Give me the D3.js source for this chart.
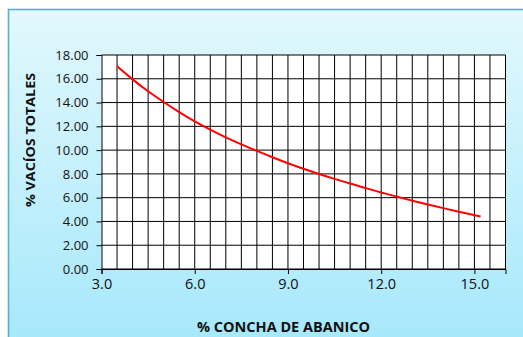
<!DOCTYPE html>
<html>
<head>
<meta charset="utf-8">
<script src="https://cdn.jsdelivr.net/npm/d3@7"></script>
<style>
  html, body { margin: 0; padding: 0; background: #ffffff; }
  svg { display: block; }
</style>
</head>
<body>
<script>
// % concha de abanico (x) vs % vacíos totales (y)
const conchaPct = [3.5, 4.0, 4.5, 5.0, 5.5, 6.0, 6.5, 7.0, 7.5, 8.0, 8.5, 9.0, 9.5,
                   10.0, 10.5, 11.0, 11.5, 12.0, 12.5, 13.0, 13.5, 14.0, 14.5, 15.2];
const vaciosPct = [17.05, 15.95, 14.95, 14.05, 13.2, 12.42, 11.72, 11.07, 10.48, 9.93, 9.4, 8.9, 8.43,
                   7.99, 7.58, 7.19, 6.8, 6.44, 6.09, 5.75, 5.43, 5.12, 4.82, 4.42];
const xTicks = [3.0, 6.0, 9.0, 12.0, 15.0];
const yTicks = [0, 2, 4, 6, 8, 10, 12, 14, 16, 18];
const xTitle = "% CONCHA DE ABANICO";
const yTitle = "% VACÍOS TOTALES";

const W = 523, H = 337;
const plot = { left: 101.5, right: 505.5, top: 55, bottom: 269 };

const svg = d3.select("body").append("svg").attr("width", W).attr("height", H);

// chart area background
const defs = svg.append("defs");
const grad = defs.append("linearGradient").attr("id", "bg").attr("x1", 0).attr("y1", 0).attr("x2", 0).attr("y2", 1);
grad.append("stop").attr("offset", "0%").attr("stop-color", "#e2f8fd");
grad.append("stop").attr("offset", "100%").attr("stop-color", "#a2e7fb");
svg.append("rect").attr("x", 8.5).attr("y", 9.5).attr("width", W + 20).attr("height", H + 20)
  .attr("fill", "url(#bg)").attr("stroke", "#55b3c9").attr("stroke-width", 1.6);

const x = d3.scaleLinear().domain([3, 16]).range([plot.left, plot.right]);
const y = d3.scaleLinear().domain([0, 18]).range([plot.bottom, plot.top]);

// plot area
svg.append("rect").attr("x", plot.left).attr("y", plot.top)
  .attr("width", plot.right - plot.left).attr("height", plot.bottom - plot.top)
  .attr("fill", "#ffffff");

// grid: vertical every 0.5, horizontal at each y tick
const vGrid = d3.range(3.5, 16.01, 0.5);
svg.append("g").selectAll("line").data(vGrid).join("line")
  .attr("x1", d => x(d)).attr("x2", d => x(d))
  .attr("y1", plot.top).attr("y2", plot.bottom)
  .attr("stroke", "#000").attr("stroke-width", 1);
svg.append("g").selectAll("line").data(yTicks).join("line")
  .attr("x1", plot.left).attr("x2", plot.right)
  .attr("y1", d => y(d)).attr("y2", d => y(d))
  .attr("stroke", "#000").attr("stroke-width", 1);

// axes
const yAxis = d3.axisLeft(y).tickValues(yTicks).tickSize(5).tickPadding(8)
  .tickFormat(d3.format(".2f"));
const gy = svg.append("g").attr("transform", `translate(${plot.left},0)`).call(yAxis);
gy.select(".domain").attr("stroke", "#000");
gy.selectAll(".tick line").attr("stroke", "#000");
gy.selectAll("text").attr("font-family", "'Open Sans', sans-serif").attr("font-size", 13)
  .attr("fill", "#111");

const xAxis = d3.axisBottom(x).tickValues(xTicks).tickSize(5).tickPadding(5)
  .tickFormat(d3.format(".1f"));
const gx = svg.append("g").attr("transform", `translate(0,${plot.bottom})`).call(xAxis);
gx.select(".domain").attr("stroke", "#000");
gx.selectAll(".tick line").attr("stroke", "#000");
gx.selectAll("text").attr("font-family", "'Open Sans', sans-serif").attr("font-size", 14.5)
  .attr("fill", "#111");

// curve
const pts = conchaPct.map((c, i) => [c, vaciosPct[i]]);
svg.append("path").datum(pts)
  .attr("d", d3.line().x(d => x(d[0])).y(d => y(d[1])).curve(d3.curveNatural))
  .attr("fill", "none").attr("stroke", "#ff0000").attr("stroke-width", 2);

// axis titles
svg.append("text").attr("x", 283.5).attr("y", 331.5).attr("text-anchor", "middle")
  .attr("font-family", "'Open Sans', sans-serif").attr("font-weight", "bold").attr("font-size", 15)
  .attr("textLength", 173).attr("lengthAdjust", "spacingAndGlyphs")
  .attr("fill", "#111").text(xTitle);
svg.append("text").attr("transform", "translate(35,140) rotate(-90)").attr("text-anchor", "middle")
  .attr("font-family", "'Open Sans', sans-serif").attr("font-weight", "bold").attr("font-size", 13)
  .attr("textLength", 134).attr("lengthAdjust", "spacingAndGlyphs")
  .attr("fill", "#111").text(yTitle);
</script>
</body>
</html>
